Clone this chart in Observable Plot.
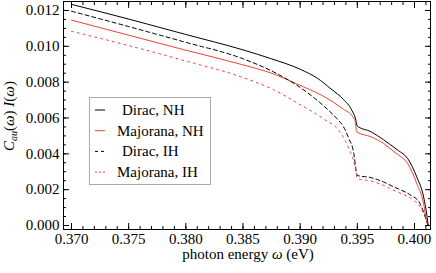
<!DOCTYPE html>
<html><head><meta charset="utf-8">
<script src="https://cdn.jsdelivr.net/npm/d3@7"></script>
<script src="https://cdn.jsdelivr.net/npm/@observablehq/plot@0.6"></script>
<style>body{margin:0;background:#fff}</style>
</head><body><div id="chart"></div>
<script>
// ---- data ----
const seriesNames = ["Dirac, NH", "Majorana, NH", "Dirac, IH", "Majorana, IH"];
const seriesColors = ["#000000", "#ee4035", "#000000", "#ee4035"];
const seriesDashes = [null, null, "4,3", "2,4"];

const diracNH_x = [0.3700, 0.3750, 0.3800, 0.3850, 0.3875, 0.3900, 0.3915, 0.3927, 0.3938, 0.3945, 0.3949, 0.39497, 0.3962, 0.3973, 0.3983, 0.3986, 0.3994, 0.4002, 0.4008, 0.4011, 0.4012];
const diracNH_y = [0.01234, 0.01152, 0.01066, 0.00980, 0.00930, 0.00872, 0.00822, 0.00762, 0.00702, 0.00645, 0.00580, 0.00557, 0.00523, 0.00478, 0.00432, 0.00418, 0.00374, 0.00271, 0.00159, 0.00050, 0.00000];

const majoranaNH_x = [0.3700, 0.3750, 0.3800, 0.3848, 0.3877, 0.3897, 0.3921, 0.3938, 0.3946, 0.39484, 0.39493, 0.3962, 0.3973, 0.3982, 0.3985, 0.3994, 0.4002, 0.4008, 0.4011, 0.4012];
const majoranaNH_y = [0.01146, 0.01062, 0.00978, 0.00900, 0.00845, 0.00790, 0.00719, 0.00648, 0.00607, 0.00572, 0.00523, 0.00495, 0.00458, 0.00412, 0.00398, 0.00346, 0.00234, 0.00122, 0.00010, 0.00000];

const diracIH_x = [0.3700, 0.3750, 0.3800, 0.3848, 0.3877, 0.3897, 0.3921, 0.3932, 0.3938, 0.39425, 0.39469, 0.39487, 0.39499, 0.3962, 0.3973, 0.3983, 0.3986, 0.3997, 0.4004, 0.4008, 0.4012];
const diracIH_y = [0.01196, 0.01110, 0.01022, 0.00935, 0.00856, 0.00783, 0.00665, 0.00597, 0.00550, 0.00486, 0.00402, 0.00318, 0.00280, 0.00267, 0.00243, 0.00212, 0.00204, 0.00168, 0.00131, 0.00075, 0.00000];

const majoranaIH_x = [0.3700, 0.3750, 0.3800, 0.3848, 0.3877, 0.3897, 0.3921, 0.3935, 0.39425, 0.39469, 0.39487, 0.39499, 0.3962, 0.3973, 0.3983, 0.3986, 0.3997, 0.4004, 0.4008, 0.4012];
const majoranaIH_y = [0.01084, 0.01004, 0.00918, 0.00830, 0.00757, 0.00685, 0.00592, 0.00520, 0.00430, 0.00355, 0.00299, 0.00262, 0.00248, 0.00224, 0.00193, 0.00185, 0.00150, 0.00112, 0.00066, 0.00000];

const xTickValues = [0.370, 0.375, 0.380, 0.385, 0.390, 0.395, 0.400];
const xTickLabels = ["0.370", "0.375", "0.380", "0.385", "0.390", "0.395", "0.400"];
const yTickValues = [0.000, 0.002, 0.004, 0.006, 0.008, 0.010, 0.012];
const yTickLabels = ["0.000", "0.002", "0.004", "0.006", "0.008", "0.010", "0.012"];

// ---- build ----
const seriesXY = [[diracNH_x, diracNH_y], [majoranaNH_x, majoranaNH_y], [diracIH_x, diracIH_y], [majoranaIH_x, majoranaIH_y]];
const rows = seriesXY.flatMap(([xs, ys], k) => xs.map((x, i) => ({x, y: ys[i], s: seriesNames[k]})));
const xMinor = d3.range(0.370, 0.4015, 0.001).map(v => +v.toFixed(4));
const yMinor = d3.range(0, 0.01251, 0.0005).map(v => +v.toFixed(5));
const blank = () => "";
const font = "Liberation Serif";
const tk = (len, anchor) => ({
  anchor, tickSize: len, tickFormat: blank, label: null,
  dy: anchor === "bottom" ? -len : anchor === "top" ? len : 0,
  dx: anchor === "left" ? len : anchor === "right" ? -len : 0
});

const plot = Plot.plot({
  width: 436, height: 273,
  marginLeft: 63, marginRight: 6, marginTop: 1, marginBottom: 44,
  x: {domain: [0.3693, 0.4014]},
  y: {domain: [-0.000223, 0.0125]},
  style: {fontFamily: font, fontSize: "15px", background: "#fff", color: "#000", overflow: "visible"},
  marks: [
    ...seriesNames.map((name, k) => Plot.line(rows.filter(d => d.s === name), {
      x: "x", y: "y", stroke: seriesColors[k], strokeWidth: 1, strokeDasharray: seriesDashes[k], curve: "monotone-x"
    })),
    Plot.frame({stroke: "#000", strokeWidth: 1}),
    // major ticks (inward) on all four sides
    Plot.axisX(xTickValues, tk(6, "bottom")),
    Plot.axisX(xTickValues, tk(6, "top")),
    Plot.axisY(yTickValues, tk(6, "left")),
    Plot.axisY(yTickValues, tk(6, "right")),
    // minor ticks
    Plot.axisX(xMinor, tk(3, "bottom")),
    Plot.axisX(xMinor, tk(3, "top")),
    Plot.axisY(yMinor, tk(3, "left")),
    Plot.axisY(yMinor, tk(3, "right")),
    // labels
    Plot.axisX(xTickValues, {anchor: "bottom", tickSize: 0, tickPadding: 4, tickFormat: (d, i) => xTickLabels[i], label: null}),
    Plot.axisY(yTickValues, {anchor: "left", tickSize: 0, tickPadding: 4, tickFormat: (d, i) => yTickLabels[i], label: null})
  ]
});
document.getElementById("chart").appendChild(plot);

const svg = d3.select(plot);
// x axis title
const xt = svg.append("text").attr("x", 248).attr("y", 259).attr("text-anchor", "middle")
  .attr("font-family", font).attr("font-size", 15);
xt.append("tspan").text("photon energy ");
xt.append("tspan").attr("font-style", "italic").text("ω");
xt.append("tspan").text(" (eV)");
// y axis title
const yt = svg.append("text").attr("transform", "translate(14,116) rotate(-90)").attr("text-anchor", "middle")
  .attr("font-family", font).attr("font-size", 15);
yt.append("tspan").attr("font-style", "italic").text("C");
yt.append("tspan").attr("font-style", "italic").attr("font-size", 10).attr("dy", 3).text("au");
yt.append("tspan").attr("dy", -3).text("(");
yt.append("tspan").attr("font-style", "italic").text("ω");
yt.append("tspan").text(") ");
yt.append("tspan").attr("font-style", "italic").text("I");
yt.append("tspan").text("(");
yt.append("tspan").attr("font-style", "italic").text("ω");
yt.append("tspan").text(")");

// legend
const lg = svg.append("g");
lg.append("rect").attr("x", 89.5).attr("y", 97.5).attr("width", 121).attr("height", 87)
  .attr("fill", "#fff").attr("stroke", "#aaa").attr("stroke-width", 1);
seriesNames.forEach((name, k) => {
  const cy = 110 + k * 20.7;
  lg.append("line").attr("x1", 95).attr("x2", 105).attr("y1", cy).attr("y2", cy)
    .attr("stroke", seriesColors[k]).attr("stroke-width", 1)
    .attr("stroke-dasharray", seriesDashes[k] ? (k === 2 ? "3,3" : "2,2") : null);
  lg.append("text").attr("x", name.startsWith("Dirac") ? 122 : 117).attr("y", cy + 5)
    .attr("text-anchor", "start")
    .attr("font-family", font).attr("font-size", 15).text(name);
});
</script>
</body></html>
